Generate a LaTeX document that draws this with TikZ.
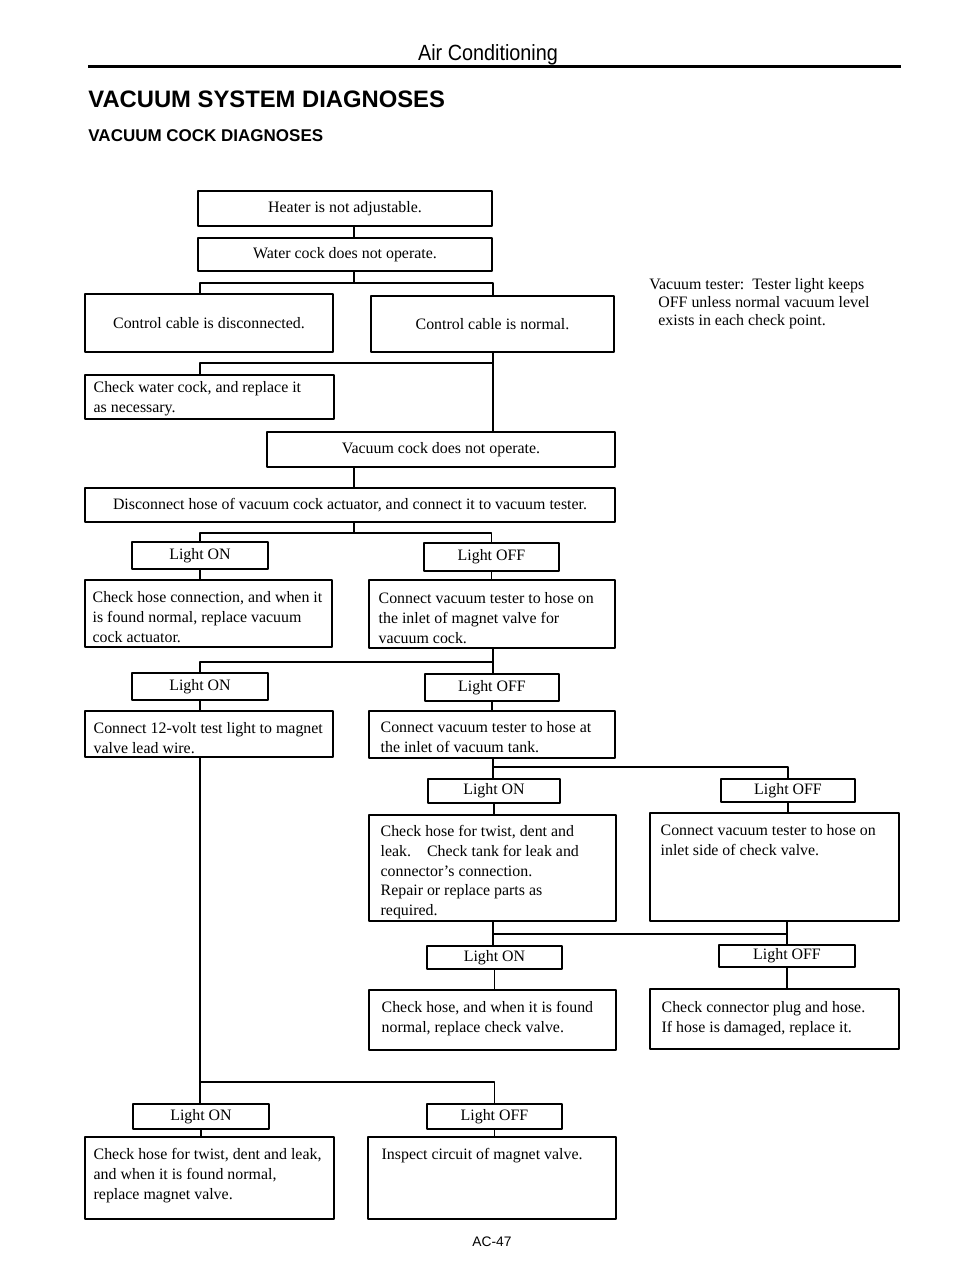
\documentclass[tikz,border=0pt]{standalone}
\usepackage{fontspec}
\setmainfont{Liberation Serif}
\newfontfamily\headfont{Liberation Sans}
\newfontfamily\narrowfont[FakeStretch=0.9]{Liberation Sans}
\usetikzlibrary{fit}

\begin{document}
\begin{tikzpicture}[x=0.5pt,y=-0.5pt,line join=round,
  font=\fontsize{7.95}{9.85}\selectfont,
  frame/.style={draw,line width=0.75pt,inner sep=0pt},
  inbox/.style={anchor=north west,inner sep=0pt,align=left},
  wire/.style={line width=0.75pt}]
  \useasboundingbox (0,0) rectangle (960,1273);
  \node[anchor=base,inner sep=0pt,font=\narrowfont\fontsize{11}{13}\selectfont] (head) at (488,61) {Air Conditioning};
  \draw[line width=1.5pt] (88,67) -- (901,67);
  \node[anchor=base west,inner sep=0pt,font=\headfont\bfseries\fontsize{11.9}{14}\selectfont] (title) at (88,108) {VACUUM SYSTEM DIAGNOSES};
  \node[anchor=base west,inner sep=0pt,font=\headfont\bfseries\fontsize{8.5}{10}\selectfont] (subtitle) at (88,142) {VACUUM COCK DIAGNOSES};

  \node[frame,fit={(198,191) (492,226)},label=center:{Heater is not adjustable.}] (heater) {};
  \node[frame,fit={(198,238) (492,271)},label=center:{Water cock does not operate.}] (water) {};
  \node[frame,fit={(85,294) (333,352)},label=center:{Control cable is disconnected.}] (cabledisc) {};
  \node[frame,fit={(371,296) (614,352)},label=center:{Control cable is normal.}] (cablenorm) {};
  \node[frame,fit={(85,375) (334,419)}] (checkwater) {};
  \node[inbox] (checkwater-t) at ([shift={(9,7)}]checkwater.north west) {Check water cock, and replace it\\as necessary.};
  \node[frame,fit={(267,432) (615,467)},label=center:{Vacuum cock does not operate.}] (vaccock) {};
  \node[frame,fit={(85,488) (615,522)},label=center:{Disconnect hose of vacuum cock actuator, and connect it to vacuum tester.}] (disconnect) {};
  \node[frame,fit={(132,542) (268,569)},label=center:{Light ON}] (on1) {};
  \node[frame,fit={(424,543) (559,571)},label=center:{Light OFF}] (off1) {};
  \node[frame,fit={(85,580) (332,647)}] (hoseconn) {};
  \node[inbox] (hoseconn-t) at ([shift={(8,12)}]hoseconn.north west) {Check hose connection, and when it\\is found normal, replace vacuum\\cock actuator.};
  \node[frame,fit={(369,580) (615,648)}] (tester1) {};
  \node[inbox] (tester1-t) at ([shift={(10,13)}]tester1.north west) {Connect vacuum tester to hose on\\the inlet of magnet valve for\\vacuum cock.};
  \node[frame,fit={(132,673) (268,700)},label=center:{Light ON}] (on2) {};
  \node[frame,fit={(425,674) (559,701)},label=center:{Light OFF}] (off2) {};
  \node[frame,fit={(85,711) (333,757)}] (testlight) {};
  \node[inbox] (testlight-t) at ([shift={(9,12)}]testlight.north west) {Connect 12-volt test light to magnet\\valve lead wire.};
  \node[frame,fit={(369,711) (615,758)}] (tester2) {};
  \node[inbox] (tester2-t) at ([shift={(12,11)}]tester2.north west) {Connect vacuum tester to hose at\\the inlet of vacuum tank.};
  \node[frame,fit={(428,779) (560,803)},label=center:{Light ON}] (on3) {};
  \node[frame,fit={(721,779) (855,802)},label=center:{Light OFF}] (off3) {};
  \node[frame,fit={(369,815) (616,921)}] (tankcheck) {};
  \node[inbox] (tankcheck-t) at ([shift={(12,11)}]tankcheck.north west) {Check hose for twist, dent and\\leak.\quad Check tank for leak and\\connector's connection.\\Repair or replace parts as\\required.};
  \node[frame,fit={(650,813) (899,921)}] (tester3) {};
  \node[inbox] (tester3-t) at ([shift={(11,12)}]tester3.north west) {Connect vacuum tester to hose on\\inlet side of check valve.};
  \node[frame,fit={(427,946) (562,969)},label=center:{Light ON}] (on4) {};
  \node[frame,fit={(719,945) (855,967)},label=center:{Light OFF}] (off4) {};
  \node[frame,fit={(369,990) (616,1050)}] (checkvalve) {};
  \node[inbox] (checkvalve-t) at ([shift={(13,12)}]checkvalve.north west) {Check hose, and when it is found\\normal, replace check valve.};
  \node[frame,fit={(650,989) (899,1049)}] (plughose) {};
  \node[inbox] (plughose-t) at ([shift={(12,13)}]plughose.north west) {Check connector plug and hose.\\If hose is damaged, replace it.};
  \node[frame,fit={(133,1104) (269,1129)},label=center:{Light ON}] (on5) {};
  \node[frame,fit={(427,1104) (562,1129)},label=center:{Light OFF}] (off5) {};
  \node[frame,fit={(85,1137) (334,1219)}] (magvalve) {};
  \node[inbox] (magvalve-t) at ([shift={(9,12)}]magvalve.north west) {Check hose for twist, dent and leak,\\and when it is found normal,\\replace magnet valve.};
  \node[frame,fit={(368,1137) (616,1219)}] (circuit) {};
  \node[inbox] (circuit-t) at ([shift={(14,12)}]circuit.north west) {Inspect circuit of magnet valve.};

  \node[inbox,font=\fontsize{7.95}{9}\selectfont] (tester) at (649,278) {Vacuum tester:\ \ Tester light keeps\\\hspace*{4.5pt}OFF unless normal vacuum level\\\hspace*{4.5pt}exists in each check point.};
  \node[inner sep=0pt,font=\headfont\fontsize{6.9}{8}\selectfont] (page) at (492,1242) {AC-47};

  \coordinate (colL) at (200,0);
  \coordinate (colM) at (354,0);
  \coordinate (colR) at (493,0);
  \coordinate (colRR) at (787,0);
  \coordinate (j1) at (354,283);
  \coordinate (j2) at (493,363);
  \coordinate (j3) at (354,533);
  \coordinate (j4) at (493,662);
  \coordinate (j5) at (493,767);
  \coordinate (j6) at (493,934);
  \coordinate (j7) at (200,1082);

  \draw[wire] (heater.south -| colM) -- (water.north -| colM);
  \draw[wire] (water.south -| colM) -- (j1);
  \draw[wire] (cabledisc.north -| colL) |- (j1) -| (cablenorm.north -| colR);
  \draw[wire] (cablenorm.south -| colR) -- (vaccock.north -| colR);
  \draw[wire] (j2) -| (checkwater.north -| colL);
  \draw[wire] (vaccock.south -| colM) -- (disconnect.north -| colM);
  \draw[wire] (disconnect.south -| colM) -- (j3);
  \draw[wire] (on1.north) |- (j3) -| (off1.north);
  \draw[wire] (on1.south) -- (on1.south |- hoseconn.north);
  \draw[wire] (off1.south) -- (off1.south |- tester1.north);
  \draw[wire] (tester1.south -| colR) -- (off2.north -| colR);
  \draw[wire] (j4) -| (on2.north);
  \draw[wire] (on2.south) -- (on2.south |- testlight.north);
  \draw[wire] (off2.south) -- (off2.south |- tester2.north);
  \draw[wire] (testlight.south -| colL) -- (on5.north -| colL);
  \draw[wire] (j7) -| (off5.north);
  \draw[wire] (tester2.south -| colR) -- (on3.north -| colR);
  \draw[wire] (j5) -| (off3.north);
  \draw[wire] (on3.south) -- (on3.south |- tankcheck.north);
  \draw[wire] (off3.south) -- (off3.south |- tester3.north);
  \draw[wire] (tankcheck.south -| colR) -- (on4.north -| colR);
  \draw[wire] (tester3.south -| colRR) -- (off4.north -| colRR);
  \draw[wire] (j6) -- (j6 -| colRR);
  \draw[wire] (on4.south) -- (on4.south |- checkvalve.north);
  \draw[wire] (off4.south) -- (off4.south |- plughose.north);
  \draw[wire] (on5.south) -- (on5.south |- magvalve.north);
  \draw[wire] (off5.south) -- (off5.south |- circuit.north);
\end{tikzpicture}
\end{document}
